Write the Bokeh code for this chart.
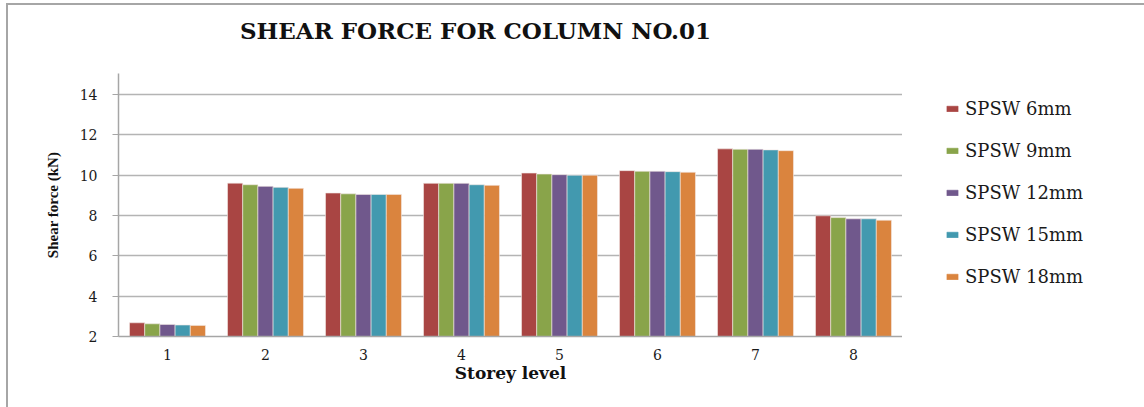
from bokeh.plotting import figure
from bokeh.layouts import row, column
from bokeh.models import (ColumnDataSource, FactorRange, Range1d, FixedTicker,
                          Legend, LegendItem, Label)
from bokeh.transform import dodge
from bokeh.embed import file_html
from bokeh.resources import INLINE

# Shear force (kN) in column no.01 for each storey and plate thickness
storeys = ["1", "2", "3", "4", "5", "6", "7", "8"]
spsw_6mm = [2.68, 9.61, 9.12, 9.60, 10.11, 10.23, 11.31, 7.99]
spsw_9mm = [2.63, 9.53, 9.08, 9.60, 10.06, 10.20, 11.29, 7.90]
spsw_12mm = [2.60, 9.45, 9.05, 9.60, 10.03, 10.20, 11.29, 7.84]
spsw_15mm = [2.57, 9.40, 9.05, 9.53, 10.00, 10.18, 11.26, 7.84]
spsw_18mm = [2.55, 9.35, 9.05, 9.50, 10.00, 10.15, 11.22, 7.77]

series_names = ["SPSW 6mm", "SPSW 9mm", "SPSW 12mm", "SPSW 15mm", "SPSW 18mm"]
series_keys = ["s6", "s9", "s12", "s15", "s18"]
colors = ["#A94543", "#89A44A", "#70588C", "#4299AF", "#DA843E"]
y_ticks = [2, 4, 6, 8, 10, 12, 14]
title_text = "SHEAR FORCE FOR COLUMN NO.01"

source = ColumnDataSource(dict(storey=storeys, s6=spsw_6mm, s9=spsw_9mm,
                               s12=spsw_12mm, s15=spsw_15mm, s18=spsw_18mm))


def bare_figure(w, h, xr, yr):
    f = figure(width=w, height=h, output_backend="svg", toolbar_location=None,
               x_range=xr, y_range=yr, x_axis_type=None, y_axis_type=None,
               min_border_left=0, min_border_right=0, min_border_top=0,
               min_border_bottom=0)
    f.outline_line_color = None
    f.xgrid.grid_line_color = None
    f.ygrid.grid_line_color = None
    f.border_fill_color = "white"
    return f


# title strip (pixel-sized ranges)
tf = bare_figure(1136, 50, Range1d(0, 1136), Range1d(0, 50))
tf.add_layout(Label(x=467, y=25, text=title_text, text_align="center",
                    text_baseline="alphabetic", text_font="DejaVu Serif",
                    text_font_style="bold", text_font_size="23px",
                    text_color="#111111"))

# main bar chart
p = figure(width=894, height=352, output_backend="svg", toolbar_location=None,
           x_range=FactorRange(*storeys, range_padding=0), y_range=Range1d(2, 15.05),
           min_border_left=110, min_border_right=0, min_border_top=18,
           min_border_bottom=71)

bar_w = 0.155
for i, (key, col) in enumerate(zip(series_keys, colors)):
    p.vbar(x=dodge("storey", (i - 2) * bar_w, range=p.x_range), top=key,
           bottom=2, width=bar_w, source=source, fill_color=col,
           line_color="#f4e9e6", line_width=0.6)

p.outline_line_color = None
p.background_fill_color = "white"
p.border_fill_color = "white"

p.xgrid.grid_line_color = None
p.ygrid.grid_line_color = "#b4b4b4"
p.ygrid.grid_line_width = 1.5

p.yaxis.ticker = FixedTicker(ticks=y_ticks)
p.yaxis.axis_label = "Shear force (kN)"
p.yaxis.axis_label_text_font = "Liberation Serif"
p.yaxis.axis_label_text_font_style = "bold"
p.yaxis.axis_label_text_font_size = "15px"
p.yaxis.axis_label_standoff = 16
p.yaxis.major_label_text_font = "DejaVu Serif"
p.yaxis.major_label_text_font_size = "14px"
p.yaxis.major_label_standoff = 15
p.yaxis.major_tick_out = 6
p.yaxis.major_tick_in = 0
p.yaxis.minor_tick_line_color = None
p.yaxis.axis_line_color = "#a6a6a6"
p.yaxis.major_tick_line_color = "#a6a6a6"
p.yaxis.axis_line_width = 1.5

p.xaxis.axis_label = "Storey level"
p.xaxis.axis_label_text_font = "DejaVu Serif"
p.xaxis.axis_label_text_font_style = "bold"
p.xaxis.axis_label_text_font_size = "17px"
p.xaxis.axis_label_standoff = 0
p.xaxis.major_label_text_font = "DejaVu Serif"
p.xaxis.major_label_text_font_size = "14px"
p.xaxis.major_label_standoff = 6
p.xaxis.major_tick_line_color = None
p.xaxis.minor_tick_line_color = None
p.xaxis.axis_line_color = "#a6a6a6"
p.xaxis.axis_line_width = 1.5

for ax in (p.xaxis, p.yaxis):
    ax.major_label_text_color = "#1a1a1a"
    ax.axis_label_text_color = "#111111"

# legend panel to the right of the chart; its swatch renderers sit outside the view
lp = bare_figure(242, 352, Range1d(0, 1), Range1d(0, 1))
items = []
for name, col in zip(series_names, colors):
    r = lp.vbar(x=[5], top=[5], bottom=[4], width=0.1, fill_color=col,
                line_color=col, line_width=0.5)
    items.append(LegendItem(label=name, renderers=[r]))

legend = Legend(items=items, location=(43, 49), padding=0, margin=0,
                spacing=21, label_height=20, glyph_height=7, glyph_width=14,
                label_standoff=6, border_line_color=None,
                background_fill_alpha=0, label_text_font="DejaVu Serif",
                label_text_font_size="18px", label_text_color="#1a1a1a")
lp.add_layout(legend)

layout = column(tf, row(p, lp), spacing=0)
# chart area border (left and top edges visible)
layout.styles = {"margin-left": "6px", "margin-top": "3px",
                 "border-left": "2px solid #a6a6a6",
                 "border-top": "2px solid #a6a6a6"}

open("out.html", "w").write(file_html(layout, INLINE))
